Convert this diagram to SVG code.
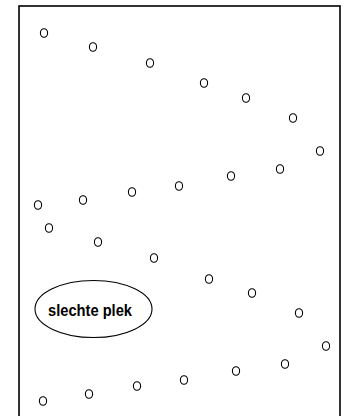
<svg xmlns="http://www.w3.org/2000/svg" width="346" height="416" viewBox="0 0 346 416">
<style>
.d{fill:none;stroke:#000;stroke-width:1.1}
.lbl{font-family:"Liberation Sans",Arial,sans-serif;font-weight:bold;font-size:17px;fill:#000}
</style>
<rect width="346" height="416" fill="#fff"/>
<rect id="frame" x="19" y="6" width="321" height="420" fill="none" stroke="#000" stroke-width="1.6"/>
<g id="connectors"></g>
<g id="dots">
<ellipse class="d" cx="44" cy="33" rx="3.6" ry="4.3"/>
<ellipse class="d" cx="93" cy="47" rx="3.6" ry="4.3"/>
<ellipse class="d" cx="150" cy="63" rx="3.6" ry="4.3"/>
<ellipse class="d" cx="204" cy="83" rx="3.6" ry="4.3"/>
<ellipse class="d" cx="246" cy="98" rx="3.6" ry="4.3"/>
<ellipse class="d" cx="293" cy="118" rx="3.6" ry="4.3"/>
<ellipse class="d" cx="320" cy="151" rx="3.6" ry="4.3"/>
<ellipse class="d" cx="280" cy="169" rx="3.6" ry="4.3"/>
<ellipse class="d" cx="231" cy="176" rx="3.6" ry="4.3"/>
<ellipse class="d" cx="179" cy="186" rx="3.6" ry="4.3"/>
<ellipse class="d" cx="132" cy="192" rx="3.6" ry="4.3"/>
<ellipse class="d" cx="83" cy="200" rx="3.6" ry="4.3"/>
<ellipse class="d" cx="38" cy="205" rx="3.6" ry="4.3"/>
<ellipse class="d" cx="49" cy="228" rx="3.6" ry="4.3"/>
<ellipse class="d" cx="98" cy="242" rx="3.6" ry="4.3"/>
<ellipse class="d" cx="154" cy="258" rx="3.6" ry="4.3"/>
<ellipse class="d" cx="209" cy="279" rx="3.6" ry="4.3"/>
<ellipse class="d" cx="252" cy="293" rx="3.6" ry="4.3"/>
<ellipse class="d" cx="299" cy="313" rx="3.6" ry="4.3"/>
<ellipse class="d" cx="326" cy="346" rx="3.6" ry="4.3"/>
<ellipse class="d" cx="285" cy="364" rx="3.6" ry="4.3"/>
<ellipse class="d" cx="236" cy="371" rx="3.6" ry="4.3"/>
<ellipse class="d" cx="184" cy="380" rx="3.6" ry="4.3"/>
<ellipse class="d" cx="137" cy="386" rx="3.6" ry="4.3"/>
<ellipse class="d" cx="89" cy="394" rx="3.6" ry="4.3"/>
<ellipse class="d" cx="43" cy="401" rx="3.6" ry="4.3"/>
</g>
<g id="slechte-plek">
<ellipse cx="93.5" cy="309" rx="58.5" ry="28.5" fill="#fff" stroke="#000" stroke-width="1.1"/>
<text class="lbl" x="90" y="316" text-anchor="middle" textLength="84" lengthAdjust="spacingAndGlyphs">slechte plek</text>
</g>
</svg>
